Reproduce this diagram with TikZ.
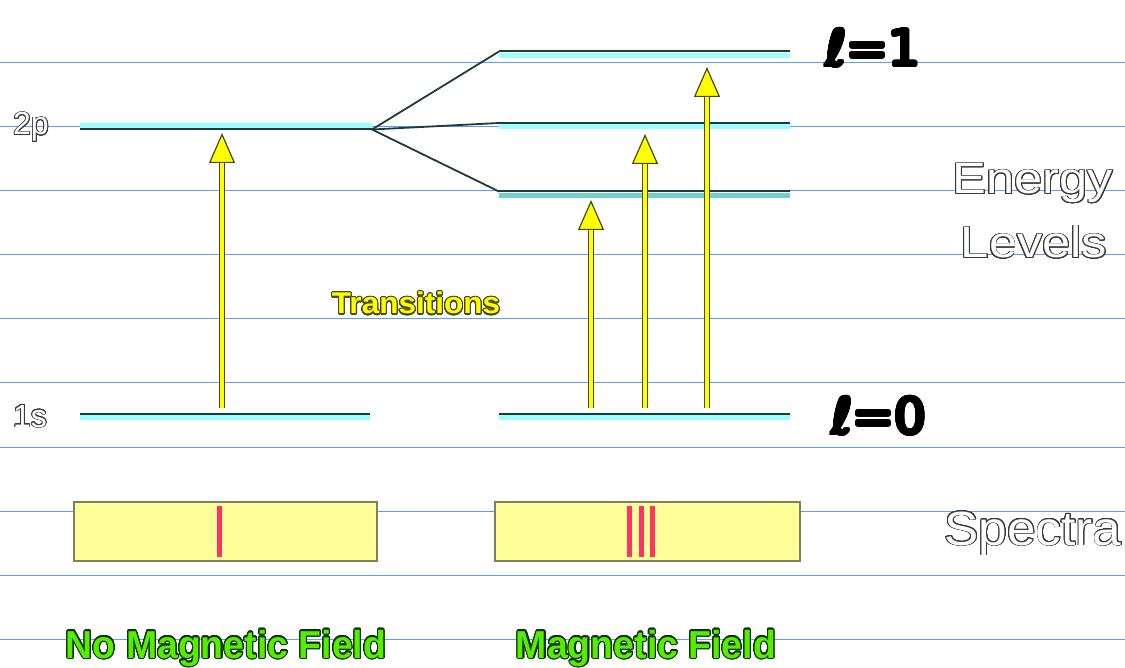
\documentclass[tikz,border=0pt]{standalone}
\usepackage{fontspec}
\setmainfont{Liberation Sans}
\newfontfamily\handfont{DejaVu Sans}
\usepackage[copies]{contour}
\usetikzlibrary{arrows.meta}
\definecolor{gridblue}{HTML}{5C9EFF}
\definecolor{levcyan}{HTML}{99FFFF}
\definecolor{levteal}{HTML}{70D0D0}
\definecolor{levdark}{HTML}{1F3A3A}
\definecolor{arrowyel}{HTML}{FFFF00}
\definecolor{arrowedge}{HTML}{4A4A10}
\definecolor{specfill}{HTML}{FFFF99}
\definecolor{specedge}{HTML}{808060}
\definecolor{specred}{HTML}{FF3366}
\definecolor{fieldgreen}{HTML}{55EE00}
\definecolor{fieldedge}{HTML}{103010}
\definecolor{hollowedge}{HTML}{3A3A3A}
\contournumber{24}
\begin{document}
\begin{tikzpicture}[x=1pt,y=-1pt,
  gridline/.style={draw=gridblue, line width=1pt},
  band/.style={draw=levcyan, line width=5pt},
  tealband/.style={draw=levteal, line width=5pt},
  levline/.style={draw=levdark, line width=2pt},
  split/.style={draw=levdark, line width=1.8pt},
  shaftedge/.style={draw=arrowedge, line width=5.5pt, shorten >=22pt},
  shaft/.style={draw=arrowyel, line width=3.2pt,
    -{Triangle[width=26pt,length=30pt,fill=arrowyel,color=arrowedge,line width=1.2pt]}},
  specbox/.style={draw=specedge, fill=specfill, line width=2pt},
  specline/.style={draw=specred, line width=5pt},
  hollow/.style={inner sep=0pt, anchor=base},
  greenlbl/.style={inner sep=0pt, anchor=base, text=fieldgreen},
  handlbl/.style={inner sep=0pt, anchor=base, text=black}
]
\useasboundingbox[fill=white] (0,0) rectangle (1125,668);

% background grid lines
\foreach \k in {0,...,9}
  \draw[gridline] (0,63+64*\k) -- (1125,63+64*\k);

% ---- left (no field) levels
\coordinate (p2L1) at (80,125.5);  \coordinate (p2L2) at (372,125.5);
\draw[band] (p2L1) -- (p2L2);
\coordinate (p2Ld1) at (80,129.5); \coordinate (split0) at (372,129.5);
\draw[levline] (p2Ld1) -- (split0);

\coordinate (s1Ld1) at (80,413.5); \coordinate (s1Ld2) at (370,413.5);
\draw[levline] (s1Ld1) -- (s1Ld2);
\coordinate (s1L1) at (80,417.5);  \coordinate (s1L2) at (370,417.5);
\draw[band] (s1L1) -- (s1L2);

% ---- right (field) levels
\coordinate (topd1) at (499,51.5); \coordinate (topd2) at (790,51.5);
\coordinate (topc1) at (499,55.5); \coordinate (topc2) at (790,55.5);
\draw[band] (topc1) -- (topc2);
\draw[levline] (topd1) -- (topd2);

\coordinate (midd1) at (499,123); \coordinate (midd2) at (790,123);
\coordinate (midc1) at (499,127); \coordinate (midc2) at (790,127);
\draw[band] (midc1) -- (midc2);
\draw[levline] (midd1) -- (midd2);

\coordinate (botd1) at (499,191.5); \coordinate (botd2) at (790,191.5);
\coordinate (botc1) at (499,195.5); \coordinate (botc2) at (790,195.5);
\draw[tealband] (botc1) -- (botc2);
\draw[levline] (botd1) -- (botd2);

\coordinate (s1Rd1) at (499,413.5); \coordinate (s1Rd2) at (790,413.5);
\draw[levline] (s1Rd1) -- (s1Rd2);
\coordinate (s1R1) at (499,417.5);  \coordinate (s1R2) at (790,417.5);
\draw[band] (s1R1) -- (s1R2);

% splitting lines
\draw[split] (split0) -- (topd1);
\draw[split] (split0) -- (midd1);
\draw[split] (split0) -- (botd1);

% ---- transition arrows
\coordinate (a1b) at (222,408); \coordinate (a1t) at (222,133);
\coordinate (a2b) at (591,408); \coordinate (a2t) at (591,200);
\coordinate (a3b) at (645,408); \coordinate (a3t) at (645,134);
\coordinate (a4b) at (707,408); \coordinate (a4t) at (707,67);
\foreach \a in {1,2,3,4}{
  \draw[shaftedge] (a\a b) -- (a\a t);
  \draw[shaft] (a\a b) -- (a\a t);
}

% ---- spectra
\node[specbox, minimum width=303pt, minimum height=59pt, inner sep=0pt] (specL) at (225.5,531.5) {};
\node[specbox, minimum width=305pt, minimum height=59pt, inner sep=0pt] (specR) at (647.5,531.5) {};
\coordinate (r1t) at (219,506); \coordinate (r1b) at (219,557);
\coordinate (r2t) at (629,506); \coordinate (r2b) at (629,557);
\coordinate (r3t) at (641,506); \coordinate (r3b) at (641,557);
\coordinate (r4t) at (652,506); \coordinate (r4b) at (652,557);
\draw[specline] (r1t) -- (r1b);
\foreach \r in {2,3,4}
  \draw[specline] (r\r t) -- (r\r b);

% ---- labels
\contourlength{0.8pt}
\node[hollow] (lbl2p) at (31,135) {\fontsize{32}{32}\selectfont\color{white}\contour{hollowedge}{2p}};
\node[hollow] (lbl1s) at (30,427) {\fontsize{32}{32}\selectfont\color{white}\contour{hollowedge}{1s}};
\node[hollow, xscale=1.15] (lblEnergy) at (1033,194) {\fontsize{44}{44}\selectfont\color{white}\contour{hollowedge}{Energy}};
\node[hollow, xscale=1.15] (lblLevels) at (1034,258) {\fontsize{44}{44}\selectfont\color{white}\contour{hollowedge}{Levels}};
\node[hollow, xscale=1.07] (lblSpectra) at (1033,545) {\fontsize{48}{48}\selectfont\color{white}\contour{hollowedge}{Spectra}};

\contourlength{1.1pt}
\node[hollow, xscale=1.05] (lblTrans) at (416,314) {\fontsize{30}{30}\selectfont\bfseries\color{arrowyel}\contour{arrowedge}{Transitions}};
\node[greenlbl, xscale=0.96] (lblNoField) at (226,658) {\fontsize{39}{39}\selectfont\bfseries\contour{fieldedge}{No Magnetic Field}};
\node[greenlbl, xscale=0.96] (lblField) at (646,658) {\fontsize{39}{39}\selectfont\bfseries\contour{fieldedge}{Magnetic Field}};

\contourlength{1.8pt}
\node[handlbl] (ell1) at (873,66) {\fontsize{50}{50}\selectfont\handfont\contour{black}{ℓ=1}};
\node[handlbl] (ell0) at (879,434) {\fontsize{50}{50}\selectfont\handfont\contour{black}{ℓ=0}};
\end{tikzpicture}
\end{document}
